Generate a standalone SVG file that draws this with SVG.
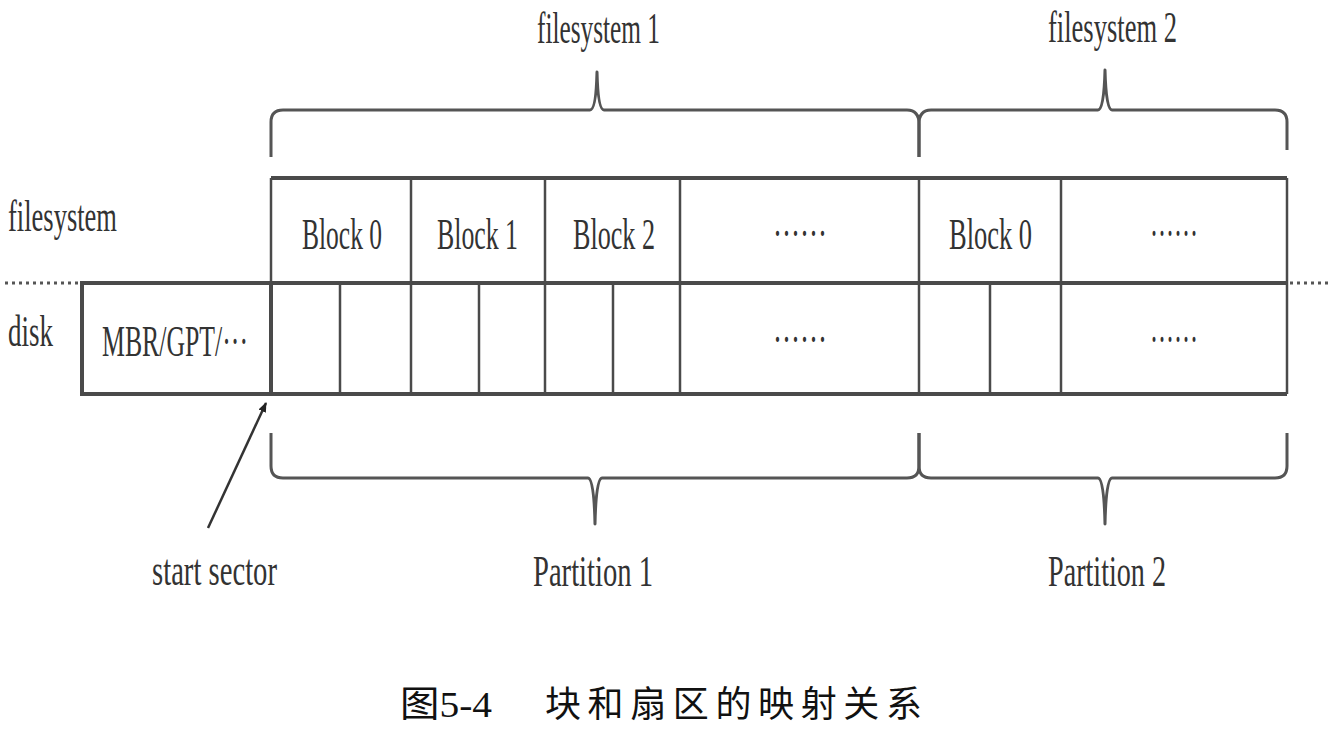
<svg xmlns="http://www.w3.org/2000/svg" width="1335" height="738" viewBox="0 0 1335 738">
<style>
.t{font-family:"Liberation Serif","Times New Roman",serif;font-size:45px;fill:#333}
.cap{font-family:"Liberation Serif","Noto Sans CJK SC",serif;font-size:36px;fill:#111}
.h{stroke:#4a4a4a;stroke-width:4;fill:none}
.v{stroke:#4a4a4a;stroke-width:2.5;fill:none}
.br{stroke:#555;stroke-width:3;fill:none;stroke-linejoin:round}
.dot{stroke:#555;stroke-width:3;stroke-dasharray:3 4;fill:none}
</style>
<defs>
<marker id="ah" markerWidth="10" markerHeight="8" refX="9" refY="4" orient="auto" markerUnits="userSpaceOnUse" viewBox="0 0 10 8">
<path d="M0,0 L10,4 L0,8 Z" fill="#222"/>
</marker>
</defs>
<rect width="1335" height="738" fill="#fff"/>

<g id="labels">
<text class="t" x="8" y="231" textLength="109" lengthAdjust="spacingAndGlyphs">filesystem</text>
<text class="t" x="8" y="346" textLength="45" lengthAdjust="spacingAndGlyphs">disk</text>
<line class="dot" x1="5" y1="283" x2="80" y2="283"/>
<line class="dot" x1="1290" y1="283" x2="1332" y2="283"/>
</g>

<g id="mbr">
<rect class="h" x="82" y="283" width="189" height="111"/>
<text class="t" x="102" y="356" textLength="146" lengthAdjust="spacingAndGlyphs">MBR/GPT/···</text>
</g>

<g id="fs-row">
<line class="h" x1="271" y1="178" x2="1287" y2="178"/>
<line class="h" x1="82" y1="283" x2="1287" y2="283"/>
<line class="h" x1="82" y1="394" x2="1287" y2="394"/>
<line class="v" x1="271" y1="178" x2="271" y2="394"/>
<line class="v" x1="1287" y1="178" x2="1287" y2="394"/>
</g>

<g id="fs1-block0">
<line class="v" x1="411" y1="178" x2="411" y2="394"/>
<text class="t" x="302" y="249" textLength="80" lengthAdjust="spacingAndGlyphs">Block 0</text>
</g>
<g id="fs1-block1">
<line class="v" x1="545" y1="178" x2="545" y2="394"/>
<text class="t" x="437" y="249" textLength="81" lengthAdjust="spacingAndGlyphs">Block 1</text>
</g>
<g id="fs1-block2">
<line class="v" x1="680" y1="178" x2="680" y2="394"/>
<text class="t" x="573" y="249" textLength="82" lengthAdjust="spacingAndGlyphs">Block 2</text>
</g>
<g id="fs1-more">
<line class="v" x1="919" y1="178" x2="919" y2="394"/>
<text class="t" x="773" y="248" textLength="54" lengthAdjust="spacingAndGlyphs">······</text>
</g>
<g id="fs2-block0">
<line class="v" x1="1061" y1="178" x2="1061" y2="394"/>
<text class="t" x="949" y="249" textLength="83" lengthAdjust="spacingAndGlyphs">Block 0</text>
</g>
<g id="fs2-more">
<text class="t" x="1150" y="248" textLength="48" lengthAdjust="spacingAndGlyphs">······</text>
</g>

<g id="sectors">
<line class="v" x1="340" y1="283" x2="340" y2="394"/>
<line class="v" x1="479" y1="283" x2="479" y2="394"/>
<line class="v" x1="613" y1="283" x2="613" y2="394"/>
<line class="v" x1="990" y1="283" x2="990" y2="394"/>
<text class="t" x="773" y="354" textLength="54" lengthAdjust="spacingAndGlyphs">······</text>
<text class="t" x="1150" y="354" textLength="48" lengthAdjust="spacingAndGlyphs">······</text>
</g>

<g id="connectors">
<path class="br" d="M271,157 L271,122 Q271,110 283,110 L590,110 Q596,110 597,72 Q598,110 604,110 L907,110 Q919,110 919,124 L919,157"/>
<path class="br" d="M919,157 L919,124 Q919,110 931,110 L1098,110 Q1104,110 1105,70 Q1106,110 1112,110 L1275,110 Q1287,110 1287,122 L1287,150"/>
<path class="br" d="M271,433 L271,466 Q271,478 283,478 L588,478 Q594,478 595,524 Q596,478 602,478 L907,478 Q919,478 919,466 L919,433"/>
<path class="br" d="M919,433 L919,466 Q919,478 931,478 L1098,478 Q1104,478 1105,524 Q1106,478 1112,478 L1275,478 Q1287,478 1287,466 L1287,433"/>
<line x1="208" y1="528" x2="266" y2="403" stroke="#333" stroke-width="2.5" marker-end="url(#ah)"/>
</g>

<g id="titles">
<text class="t" x="537" y="43" textLength="123" lengthAdjust="spacingAndGlyphs">filesystem 1</text>
<text class="t" x="1048" y="42" textLength="129" lengthAdjust="spacingAndGlyphs">filesystem 2</text>
<text class="t" x="152" y="585" textLength="125" lengthAdjust="spacingAndGlyphs">start sector</text>
<text class="t" x="533" y="586" textLength="120" lengthAdjust="spacingAndGlyphs">Partition 1</text>
<text class="t" x="1048" y="586" textLength="118" lengthAdjust="spacingAndGlyphs">Partition 2</text>
</g>

<g id="caption">
<text class="cap" x="400" y="717" textLength="92" lengthAdjust="spacingAndGlyphs">图5-4</text>
<text class="cap" x="545" y="717" textLength="377" lengthAdjust="spacing">块和扇区的映射关系</text>
</g>
</svg>
